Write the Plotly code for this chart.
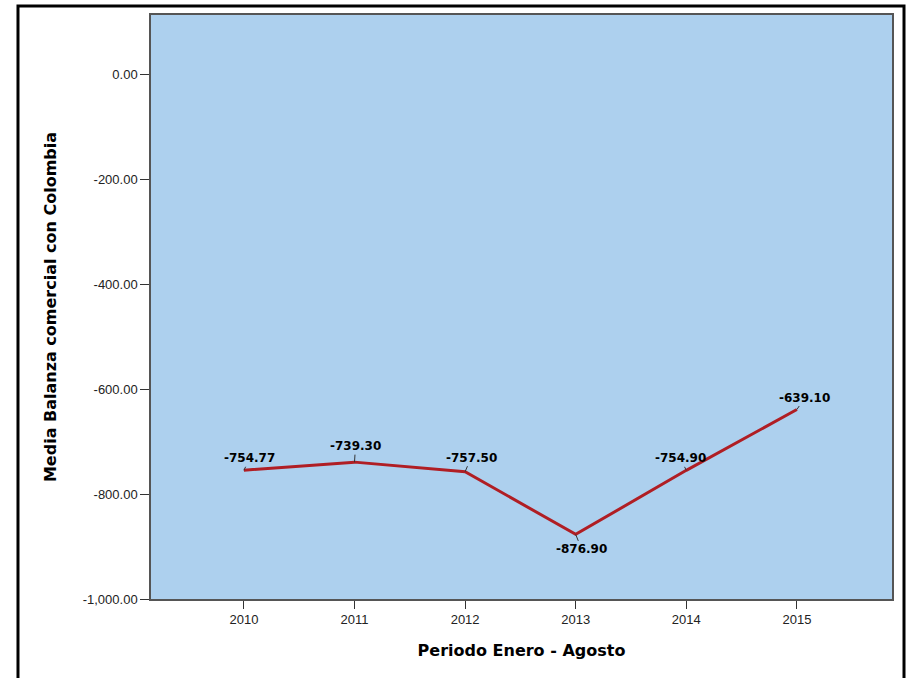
import plotly.graph_objects as go

years = ["2010", "2011", "2012", "2013", "2014", "2015"]
values = [-754.77, -739.30, -757.50, -876.90, -754.90, -639.10]
label_ax = [6, 1, 6, 6, -6, 8]
label_ay = [-12, -16, -14, 15, -12, -12]
y_ticks = [0, -200, -400, -600, -800, -1000]
y_ticktext = [f"{v:,.2f}" for v in y_ticks]

fig = go.Figure()
fig.add_trace(go.Scatter(
    x=years, y=values, mode="lines",
    line=dict(color="#B01E24", width=3),
    showlegend=False, hoverinfo="skip",
))

for i, (y, ax, ay) in enumerate(zip(values, label_ax, label_ay)):
    fig.add_annotation(
        x=i, y=y, xref="x", yref="y", text=f"<b>{y:.2f}</b>",
        showarrow=True, arrowhead=0,
        arrowwidth=1, arrowcolor="#333333", ax=ax, ay=ay,
        font=dict(family="DejaVu Sans", size=12, color="#000000"),
    )

fig.add_shape(type="rect", xref="paper", yref="paper",
              x0=-0.1795, x1=1.0162, y0=-0.16, y1=1.0154,
              line=dict(color="black", width=3), layer="above")

fig.update_layout(
    width=907, height=678,
    margin=dict(l=151, r=15, t=15, b=79),
    paper_bgcolor="white",
    plot_bgcolor="#ADD0EE",
    font=dict(family="Liberation Sans, Arial", size=13, color="#222222"),
    xaxis=dict(
        type="category", range=[-0.84, 5.86],
        showgrid=False, zeroline=False,
        ticks="outside", ticklen=8, tickcolor="#333333",
        showline=True, linecolor="#555555", linewidth=1.5, mirror=True,
        title=dict(text="<b>Periodo Enero - Agosto</b>",
                   font=dict(family="DejaVu Sans", size=16, color="#000000"),
                   standoff=18),
    ),
    yaxis=dict(
        range=[-1000, 112.4],
        tickvals=y_ticks, ticktext=y_ticktext,
        showgrid=False, zeroline=False,
        ticks="outside", ticklen=9, tickcolor="#333333",
        showline=True, linecolor="#555555", linewidth=1.5, mirror=True,
        title=dict(text="<b>Media Balanza comercial con Colombia</b>",
                   font=dict(family="DejaVu Sans", size=16, color="#000000"),
                   standoff=22),
    ),
)

fig.write_html("out.html", config={"displayModeBar": False},
               post_script="document.body.style.margin='0';")
